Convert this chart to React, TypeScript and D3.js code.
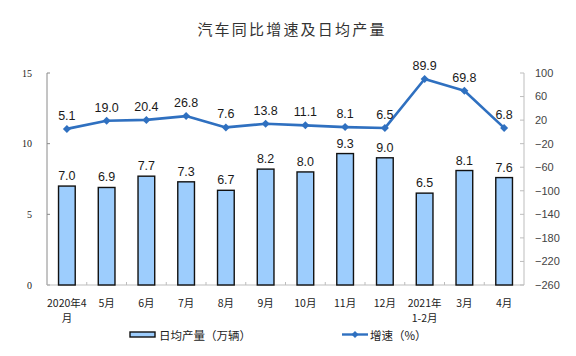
import React from "react";
import * as d3 from "d3";

const title = "汽车同比增速及日均产量";
const categories: string[][] = [
  ["2020年4", "月"], ["5月"], ["6月"], ["7月"], ["8月"], ["9月"], ["10月"],
  ["11月"], ["12月"], ["2021年", "1-2月"], ["3月"], ["4月"],
];
const dailyOutput = [7.0, 6.9, 7.7, 7.3, 6.7, 8.2, 8.0, 9.3, 9.0, 6.5, 8.1, 7.6];
const growth = [5.1, 19.0, 20.4, 26.8, 7.6, 13.8, 11.1, 8.1, 6.5, 89.9, 69.8, 6.8];
const leftTicks = [0, 5, 10, 15];
const rightTicks = [100, 60, 20, -20, -60, -100, -140, -180, -220, -260];
const legendBar = "日均产量（万辆）";
const legendLine = "增速（%）";

const W = 576, H = 356;
const L = 47, R = 524, T = 73, B = 285;
const LINE = "#2F70C0";
const BAR = "#9DCDFD";
const SANS = "'Liberation Sans', Arial, sans-serif";
const CJK = "'Noto Sans CJK SC', 'Noto Sans', sans-serif";

export default function App() {
  const keys = categories.map((c) => c.join(""));
  const x = d3.scaleBand<string>().domain(keys).range([L, R]).paddingInner(0).paddingOuter(0);
  const yL = d3.scaleLinear().domain([0, 15]).range([B, T]);
  const yR = d3.scaleLinear().domain([-260, 100]).range([B, T]);
  const bw = x.bandwidth() * 0.42;
  const cx = (i: number) => (x(keys[i]) as number) + x.bandwidth() / 2;
  const fmt = d3.format(".1f");
  const rfmt = (v: number) => (v < 0 ? "−" + Math.abs(v) : String(v));
  const line = d3
    .line<number>()
    .x((_, i) => cx(i))
    .y((d) => yR(d));
  const diamond = (px: number, py: number, r: number) =>
    `M${px},${py - r}L${px + r},${py}L${px},${py + r}L${px - r},${py}Z`;

  return (
    <svg
      width={W}
      height={H}
      style={{ position: "fixed", left: 0, top: 0, background: "#fff" }}
      xmlns="http://www.w3.org/2000/svg"
    >
      <rect x={0} y={0} width={W} height={H} fill="#fff" />
      <text
        x={292}
        y={35}
        textAnchor="middle"
        fontFamily={CJK}
        fontSize={15}
        letterSpacing={2.2}
        fill="#333"
      >
        {title}
      </text>

      {/* left axis */}
      <line x1={L} x2={L} y1={T} y2={B} stroke="#8a8a8a" strokeWidth={1} />
      {leftTicks.map((t) => (
        <g key={"lt" + t}>
          <line x1={L} x2={L + 3} y1={yL(t)} y2={yL(t)} stroke="#8a8a8a" />
          <text
            x={32}
            y={yL(t)}
            dy="0.35em"
            textAnchor="end"
            fontFamily="'Liberation Serif', 'Times New Roman', serif"
            fontSize={10}
            fill="#222"
          >
            {t}
          </text>
        </g>
      ))}

      {/* right axis */}
      <line x1={R} x2={R} y1={T} y2={B} stroke="#bdbdbd" strokeWidth={1} />
      {rightTicks.map((t) => (
        <g key={"rt" + t}>
          <line x1={R - 4} x2={R} y1={yR(t)} y2={yR(t)} stroke="#bdbdbd" />
          <text
            x={535}
            y={yR(t)}
            dy="0.35em"
            textAnchor="start"
            fontFamily={SANS}
            fontSize={11}
            fill="#444"
          >
            {rfmt(t)}
          </text>
        </g>
      ))}

      {/* bottom axis */}
      <line x1={L} x2={R} y1={B} y2={B} stroke="#bdbdbd" strokeWidth={1.2} />
      {keys.slice(1).map((k) => (
        <line
          key={"bt" + k}
          x1={x(k) as number}
          x2={x(k) as number}
          y1={B}
          y2={B - 3}
          stroke="#bdbdbd"
        />
      ))}

      {/* bars */}
      {dailyOutput.map((v, i) => (
        <g key={"b" + i}>
          <rect
            x={cx(i) - bw / 2}
            y={yL(v)}
            width={bw}
            height={B - yL(v)}
            fill={BAR}
            stroke="#111"
            strokeWidth={1.4}
          />
          <text
            x={cx(i)}
            y={yL(v) - 6}
            textAnchor="middle"
            fontFamily={SANS}
            fontSize={12.5}
            fill="#1a1a1a"
          >
            {fmt(v)}
          </text>
        </g>
      ))}

      {/* line */}
      <path d={line(growth) as string} fill="none" stroke={LINE} strokeWidth={2.6} strokeLinejoin="round" />
      {growth.map((v, i) => (
        <g key={"p" + i}>
          <path d={diamond(cx(i), yR(v), 4)} fill={LINE} />
          <text
            x={cx(i)}
            y={yR(v) - 9}
            textAnchor="middle"
            fontFamily={SANS}
            fontSize={12.5}
            fill="#1a1a1a"
          >
            {fmt(v)}
          </text>
        </g>
      ))}

      {/* x labels */}
      {categories.map((lines, i) =>
        lines.map((s, j) => (
          <text
            key={"xl" + i + "-" + j}
            x={cx(i)}
            y={306.5 + j * 15.5}
            textAnchor="middle"
            fontFamily={CJK}
            fontSize={10.5}
            fill="#222"
          >
            {s}
          </text>
        ))
      )}

      {/* legend */}
      <rect x={130} y={332} width={25} height={5} fill={BAR} stroke="#111" strokeWidth={1.4} />
      <text x={159} y={339.5} fontFamily={CJK} fontSize={11.5} fill="#222">
        {legendBar}
      </text>
      <line x1={342} x2={368} y1={334.5} y2={334.5} stroke={LINE} strokeWidth={2.4} />
      <path d={diamond(355, 334.5, 3.5)} fill={LINE} />
      <text x={370} y={339.5} fontFamily={CJK} fontSize={11.5} fill="#222">
        {legendLine}
      </text>
    </svg>
  );
}
